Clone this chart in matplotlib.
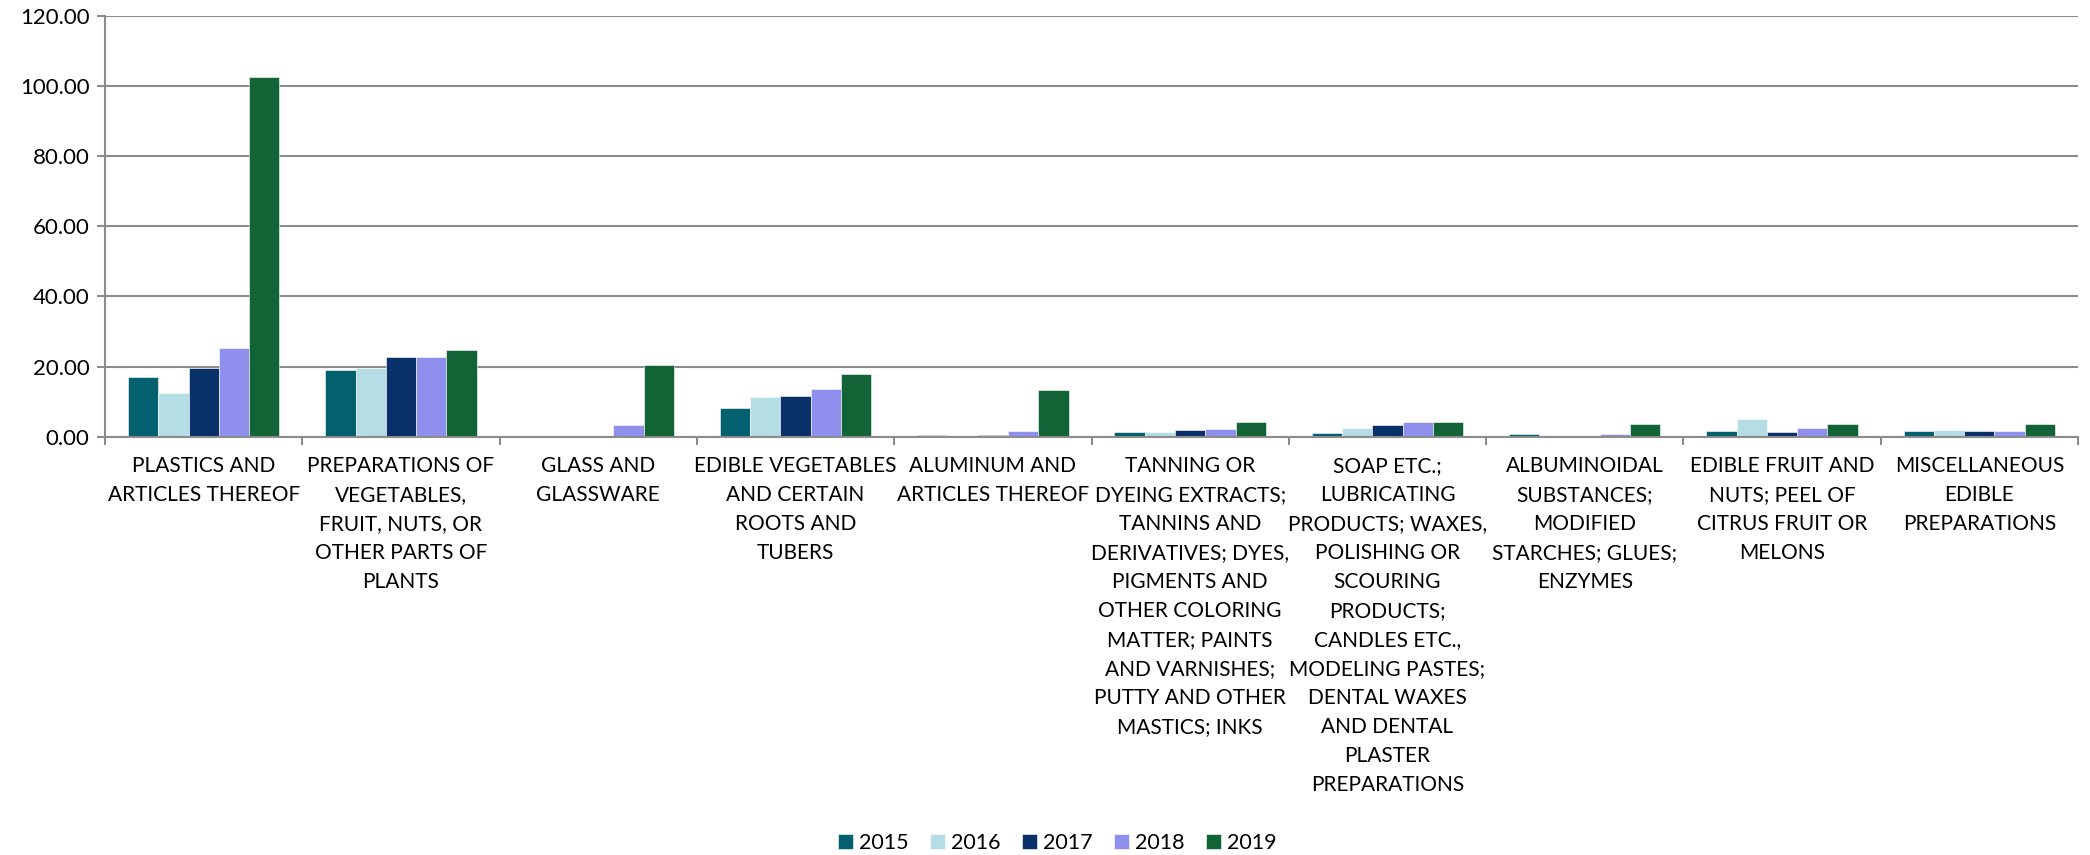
# -*- coding: utf-8 -*-
# Grouped bar chart, 2015-2019, ten product categories

import matplotlib.pyplot as plt
import numpy as np

# Data ------------------------------------------------------------------------
categories = [
    'PLASTICS AND\nARTICLES THEREOF',
    'PREPARATIONS OF\nVEGETABLES,\nFRUIT, NUTS, OR\nOTHER PARTS OF\nPLANTS',
    'GLASS AND\nGLASSWARE',
    'EDIBLE VEGETABLES\nAND CERTAIN\nROOTS AND\nTUBERS',
    'ALUMINUM AND\nARTICLES THEREOF',
    'TANNING OR\nDYEING EXTRACTS;\nTANNINS AND\nDERIVATIVES; DYES,\nPIGMENTS AND\nOTHER COLORING\n'
    'MATTER; PAINTS\nAND VARNISHES;\nPUTTY AND OTHER\nMASTICS; INKS',
    'SOAP ETC.;\nLUBRICATING\nPRODUCTS; WAXES,\nPOLISHING OR\nSCOURING\nPRODUCTS;\nCANDLES ETC.,\n'
    'MODELING PASTES;\nDENTAL WAXES\nAND DENTAL\nPLASTER\nPREPARATIONS',
    'ALBUMINOIDAL\nSUBSTANCES;\nMODIFIED\nSTARCHES; GLUES;\nENZYMES',
    'EDIBLE FRUIT AND\nNUTS; PEEL OF\nCITRUS FRUIT OR\nMELONS',
    'MISCELLANEOUS\nEDIBLE\nPREPARATIONS',
]
years = ['2015', '2016', '2017', '2018', '2019']
v2015 = [16.9, 19.1, 0.0, 8.1, 0.4, 1.2, 1.0, 0.7, 1.7, 1.6]
v2016 = [12.4, 19.7, 0.0, 11.3, 0.0, 1.4, 2.5, 0.0, 5.1, 1.9]
v2017 = [19.7, 22.8, 0.1, 11.7, 0.5, 1.9, 3.3, 0.0, 1.2, 1.7]
v2018 = [25.3, 22.6, 3.2, 13.6, 1.6, 2.2, 4.1, 0.8, 2.5, 1.6]
v2019 = [102.5, 24.7, 20.3, 17.8, 13.4, 4.1, 4.1, 3.5, 3.5, 3.5]
colors = ['#03606f', '#b4dde5', '#0a306a', '#8f8fee', '#126336']

# Build Plot ------------------------------------------------------------------
plt.rcParams['font.family'] = ['Lato', 'DejaVu Sans']
grid_col = '#8c8c8c'

fig = plt.figure(figsize=(20.9, 8.55), dpi=100)
ax = fig.add_axes([105 / 2090, 1 - 436.7 / 855, (2078 - 105) / 2090, (436.7 - 15.7) / 855])

x_pos = np.arange(len(categories))
width = 0.1535
series = [v2015, v2016, v2017, v2018, v2019]
for i, (vals, yr) in enumerate(zip(series, years)):
    ax.bar(x_pos + (i - 2) * width, vals, width, color=colors[i], label=yr,
           edgecolor='white', linewidth=0.4, zorder=3)

ax.set_xlim(-0.5, len(categories) - 0.5)
ax.set_ylim(0, 120)
ax.set_yticks(np.arange(0, 121, 20))
ax.set_yticklabels(['%.2f' % t for t in np.arange(0, 121, 20)], fontsize=16)
ax.yaxis.grid(True, color=grid_col, linewidth=1.5, zorder=0)
ax.tick_params(axis='y', length=6, width=1.5, color=grid_col, pad=5)

ax.set_xticks(x_pos)
ax.set_xticklabels(categories, fontsize=15, linespacing=1.56)
ax.tick_params(axis='x', which='major', length=0, pad=14)
ax.set_xticks(np.arange(-0.5, len(categories), 1), minor=True)
ax.tick_params(axis='x', which='minor', length=6, width=1.5, color=grid_col)

for s in ['top', 'right']:
    ax.spines[s].set_visible(False)
for s in ['left', 'bottom']:
    ax.spines[s].set_color(grid_col)
    ax.spines[s].set_linewidth(1.5)
    ax.spines[s].set_zorder(4)

ax.legend(loc='center', bbox_to_anchor=(0.506, (855 - 843) / 855), bbox_transform=fig.transFigure,
          ncol=5, frameon=False, fontsize=15.5, handlelength=0.67, handleheight=0.67,
          handletextpad=0.3, columnspacing=1.0)

plt.savefig('out.png', dpi=100)
